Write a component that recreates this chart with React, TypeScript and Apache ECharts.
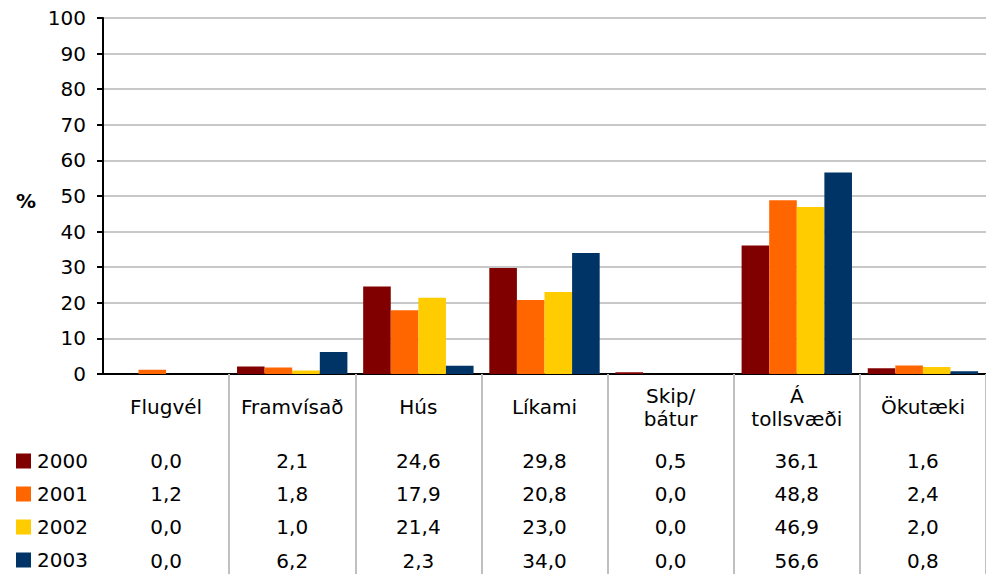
import React, { useEffect, useRef } from "react";
import * as echarts from "echarts";

const categories = ["Flugvél", "Framvísað", "Hús", "Líkami", "Skip/\nbátur", "Á\ntollsvæði", "Ökutæki"];
const years = ["2000", "2001", "2002", "2003"];
const v2000 = [0.0, 2.1, 24.6, 29.8, 0.5, 36.1, 1.6];
const v2001 = [1.2, 1.8, 17.9, 20.8, 0.0, 48.8, 2.4];
const v2002 = [0.0, 1.0, 21.4, 23.0, 0.0, 46.9, 2.0];
const v2003 = [0.0, 6.2, 2.3, 34.0, 0.0, 56.6, 0.8];
const yTicks = { min: 0, max: 100, interval: 10 };
const colors = ["#800000", "#FF6600", "#FFCC00", "#003366"];

const FONT = "DejaVu Sans";
const FS = 20;

export default function App() {
  const ref = useRef<HTMLDivElement>(null);
  useEffect(() => {
    if (!ref.current) return;
    const chart = echarts.init(ref.current, undefined, { renderer: "svg" });
    const seriesData = [v2000, v2001, v2002, v2003];
    const rowMargins = [87, 120, 153, 187];
    const fmt = (v: number) => v.toFixed(1).replace(".", ",");
    const valueAxes = seriesData.map((arr, i) => ({
      type: "category",
      gridIndex: 0,
      position: "bottom",
      data: categories,
      axisLine: { show: false },
      axisTick: { show: false },
      splitLine: { show: false },
      axisLabel: {
        interval: 0,
        margin: rowMargins[i],
        verticalAlign: "middle",
        color: "#000",
        fontFamily: FONT,
        fontSize: FS,
        formatter: (_: string, idx: number) => fmt(arr[idx]),
      },
    }));
    chart.setOption({
      animation: false,
      backgroundColor: "#fff",
      textStyle: { fontFamily: FONT },
      title: {
        text: "%",
        left: 11,
        top: 186,
        textStyle: { fontFamily: FONT, fontSize: FS, fontWeight: "bold", color: "#000" },
      },
      legend: {
        orient: "vertical",
        left: 16,
        top: 451,
        height: 140,
        padding: 0,
        icon: "rect",
        itemWidth: 15,
        itemHeight: 15,
        itemGap: 13,
        textStyle: { fontFamily: FONT, fontSize: FS, color: "#000", lineHeight: 20, padding: [0, 0, 0, 1] },
        data: years,
      },
      grid: { left: 103, right: -8, top: 18, bottom: 200, containLabel: false },
      xAxis: [
        {
          type: "category",
          data: categories,
          axisLine: { show: true, lineStyle: { color: "#000", width: 2 } },
          axisTick: {
            show: true,
            length: 200,
            interval: (i: number) => i !== 0,
            lineStyle: { color: "#c0c0c0", width: 2 },
          },
          axisLabel: {
            interval: 0,
            margin: 33,
            verticalAlign: "middle",
            color: "#000",
            fontFamily: FONT,
            fontSize: FS,
            lineHeight: 23,
          },
        },
        ...valueAxes,
      ],
      yAxis: {
        type: "value",
        min: yTicks.min,
        max: yTicks.max,
        interval: yTicks.interval,
        axisLine: { show: true, lineStyle: { color: "#000", width: 2 } },
        axisTick: { show: true, length: 6, lineStyle: { color: "#000", width: 2 } },
        axisLabel: { margin: 17, color: "#000", fontFamily: FONT, fontSize: FS },
        splitLine: { show: true, lineStyle: { color: "#c8c8c8", width: 2 } },
      },
      series: seriesData.map((arr, i) => ({
        name: years[i],
        type: "bar",
        data: arr,
        barGap: "0%",
        barCategoryGap: "12.5%",
        itemStyle: { color: colors[i] },
      })),
    });
    return () => chart.dispose();
  }, []);
  return (
    <div
      ref={ref}
      style={{ position: "fixed", left: 0, top: 0, width: 986, height: 574, background: "#fff" }}
    />
  );
}
